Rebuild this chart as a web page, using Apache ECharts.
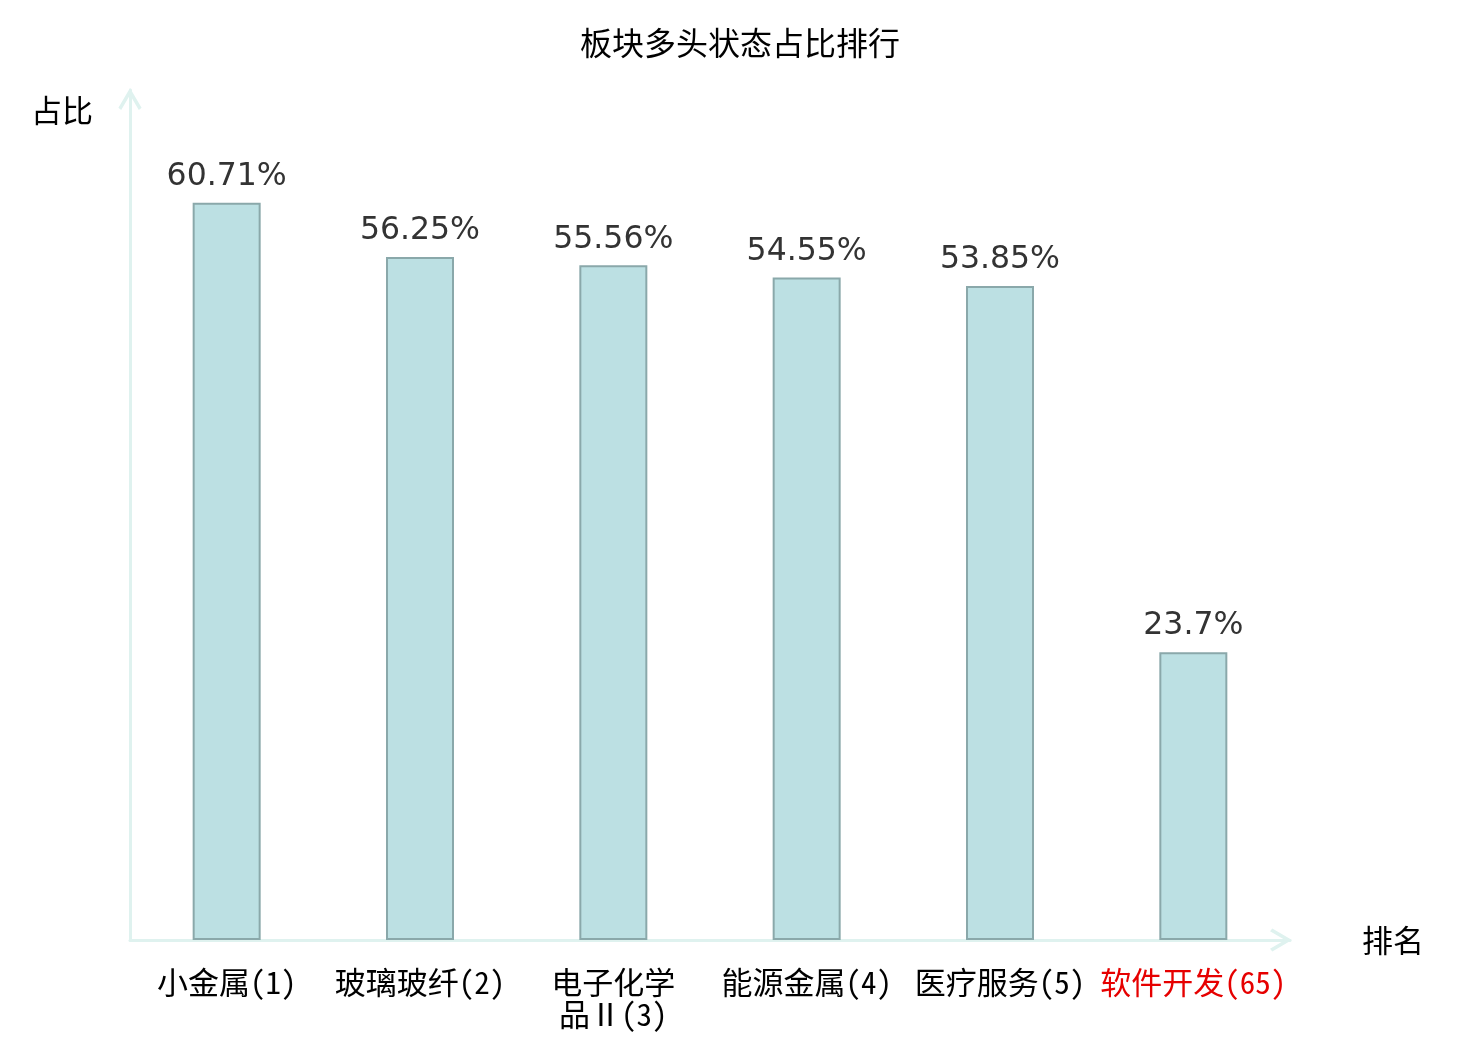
<!DOCTYPE html>
<html>
<head>
<meta charset="utf-8">
<script src="https://cdn.jsdelivr.net/npm/echarts@6/dist/echarts.min.js"></script>
<style>
  html, body { margin: 0; padding: 0; background: #fff; }
  #chart { width: 1480px; height: 1040px; }
</style>
</head>
<body>
<div id="chart"></div>
<script>
// 板块名称、排名、占比
var sectors = ['小金属', '玻璃玻纤', '电子化学品Ⅱ', '能源金属', '医疗服务', '软件开发'];
var ranks = [1, 2, 3, 4, 5, 65];
var ratios = [60.71, 56.25, 55.56, 54.55, 53.85, 23.7];
var highlightIndex = 5;

var categories = sectors.map(function(name, i) {
  return name + '(' + ranks[i] + ')';
});

var chart = echarts.init(document.getElementById('chart'));

var axisColor = '#dff2ef';
var cjk = '"Noto Sans CJK SC", "Noto Sans", sans-serif';
var cjkMono = '"Noto Sans Mono CJK SC", "Noto Sans CJK SC", sans-serif';
// 开口箭头（尖端朝上，ECharts 会按轴方向旋转）
var chevron = 'path://M0,17 L10,0 L20,17 L17.6,19 L10,6 L2.4,19 Z';

var option = {
  backgroundColor: '#fff',
  animation: false,
  title: {
    text: '板块多头状态占比排行',
    left: 'center',
    top: 22,
    textStyle: { fontFamily: cjk, fontSize: 32, fontWeight: 'normal', color: '#000' }
  },
  grid: { left: 130, right: 190, top: 90, bottom: 100 },
  xAxis: {
    type: 'category',
    data: categories,
    name: '排名',
    nameLocation: 'end',
    nameGap: 72,
    nameTextStyle: { fontFamily: cjk, fontSize: 31, color: '#000', verticalAlign: 'middle' },
    axisLine: {
      show: true,
      symbol: ['none', chevron],
      symbolSize: [24, 22],
      symbolOffset: [0, -9],
      lineStyle: { color: axisColor, width: 3 }
    },
    axisTick: { show: false },
    axisLabel: {
      interval: 0,
      margin: 26,
      lineHeight: 32,
      formatter: function(value, idx) {
        var name = sectors[idx];
        var rank = '(' + ranks[idx] + ')';
        var text = name.length > 4 ? name.slice(0, 4) + '\n' + name.slice(4) + rank : name + rank;
        if (idx === highlightIndex) {
          return text.split('\n').map(function(s) { return '{hl|' + s + '}'; }).join('\n');
        }
        return text;
      },
      fontFamily: cjkMono,
      fontSize: 31,
      color: '#000',
      rich: {
        hl: { fontFamily: cjkMono, fontSize: 31, color: '#e60000', lineHeight: 32 }
      }
    }
  },
  yAxis: {
    type: 'value',
    min: 0,
    max: 70,
    name: '占比',
    nameLocation: 'end',
    nameGap: -20,
    nameTextStyle: {
      fontFamily: cjk, fontSize: 31, color: '#000',
      align: 'right', verticalAlign: 'middle', padding: [0, 37, 0, 0]
    },
    axisLine: {
      show: true,
      symbol: ['none', chevron],
      symbolSize: [24, 22],
      symbolOffset: [0, -9],
      lineStyle: { color: axisColor, width: 3 }
    },
    axisTick: { show: false },
    axisLabel: { show: false },
    splitLine: { show: false }
  },
  series: [{
    type: 'bar',
    data: ratios,
    barWidth: 68,
    itemStyle: {
      color: '#bce0e3',
      borderColor: '#8aa8aa',
      borderWidth: 2
    },
    label: {
      show: true,
      position: 'top',
      distance: 10,
      formatter: function(p) { return p.value + '%'; },
      fontFamily: '"DejaVu Sans", sans-serif',
      fontSize: 31.5,
      color: '#333'
    }
  }]
};

chart.setOption(option);
</script>
</body>
</html>
